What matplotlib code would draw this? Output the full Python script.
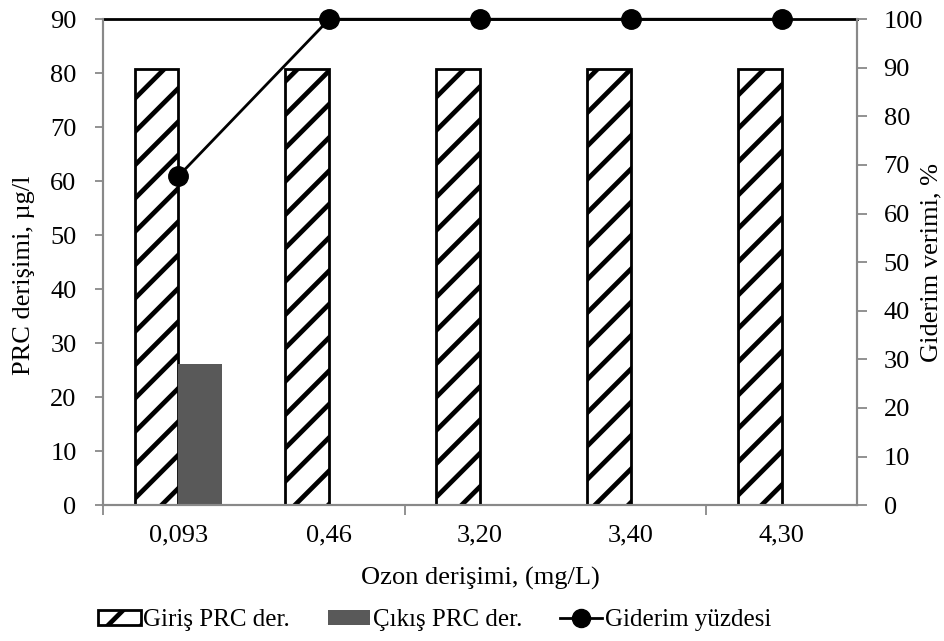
import numpy as np
import matplotlib.pyplot as plt
from matplotlib.lines import Line2D
from matplotlib.patches import Patch

plt.rcParams['font.family'] = ['Liberation Serif', 'DejaVu Serif']
plt.rcParams['hatch.linewidth'] = 3.4

ozon = ['0,093', '0,46', '3,20', '3,40', '4,30']
giris = [80.7, 80.7, 80.7, 80.7, 80.7]
cikis = [26.1, 0, 0, 0, 0]
giderim = [67.7, 100, 100, 100, 100]

gray = '#898989'
fs = 19
x = np.arange(len(ozon))
w = 0.29

fig = plt.figure(figsize=(9.45, 6.41), dpi=100)
ax = fig.add_axes([0.109, 0.212, 0.798, 0.758])

ax.bar(x - w / 2, giris, w, color='white', edgecolor='black', linewidth=2,
       hatch='/', zorder=2)
ax.bar(x + w / 2, cikis, w, color='#595959', edgecolor='none', zorder=2)

ax.set_xlim(-0.5, 4.5)
ax.set_ylim(0, 90)
ax.set_yticks(np.arange(0, 91, 10))
ax.set_xticks([-0.5, 1.5, 3.5])
ax.set_xticklabels([])
ax.set_xticks(x, minor=True)
ax.set_xticklabels(ozon, minor=True)
ax.tick_params(axis='x', which='major', direction='out', length=7, color=gray, width=1.3)
ax.tick_params(axis='x', which='minor', length=0, pad=14, labelsize=fs)
ax.tick_params(axis='y', direction='out', length=6, color=gray, width=1.3,
               labelsize=fs, pad=13)

for s in ['left', 'bottom', 'right']:
    ax.spines[s].set_color(gray)
    ax.spines[s].set_linewidth(1.5)
ax.spines['top'].set_color('black')
ax.spines['top'].set_linewidth(2)

ax.set_xlabel('Ozon derişimi, (mg/L)', fontsize=fs, labelpad=15)

ax2 = ax.twinx()
ax2.plot(x, giderim, color='black', linewidth=2, marker='o', markersize=14,
         clip_on=False, zorder=3)
ax2.set_ylim(0, 100)
ax2.set_yticks(np.arange(0, 101, 10))
ax2.tick_params(axis='y', direction='out', length=7, color=gray, width=1.3,
                labelsize=fs, pad=12)
for s in ['left', 'bottom', 'right']:
    ax2.spines[s].set_color(gray)
    ax2.spines[s].set_linewidth(1.5)
ax2.spines['top'].set_visible(False)

# axis titles placed in figure pixels
fig.text(24 / 945, 1 - 275 / 641, 'PRC derişimi, µg/l', fontsize=fs,
         rotation=90, ha='center', va='center')
fig.text(931 / 945, 1 - 263 / 641, 'Giderim verimi, %', fontsize=fs,
         rotation=90, ha='center', va='center')

handles = [
    Patch(facecolor='white', edgecolor='black', hatch='/', linewidth=2),
    Patch(facecolor='#595959', edgecolor='none'),
    Line2D([0], [0], color='black', linewidth=2, marker='o', markersize=13),
]
labels = ['Giriş PRC der.', 'Çıkış PRC der.', 'Giderim yüzdesi']
fig.legend(handles, labels, loc='lower center', bbox_to_anchor=(0.46, -0.02),
           ncol=3, frameon=False, fontsize=18, handlelength=1.7,
           handleheight=0.5, handletextpad=0.1, columnspacing=1.5)

fig.savefig('out.png', dpi=100)
